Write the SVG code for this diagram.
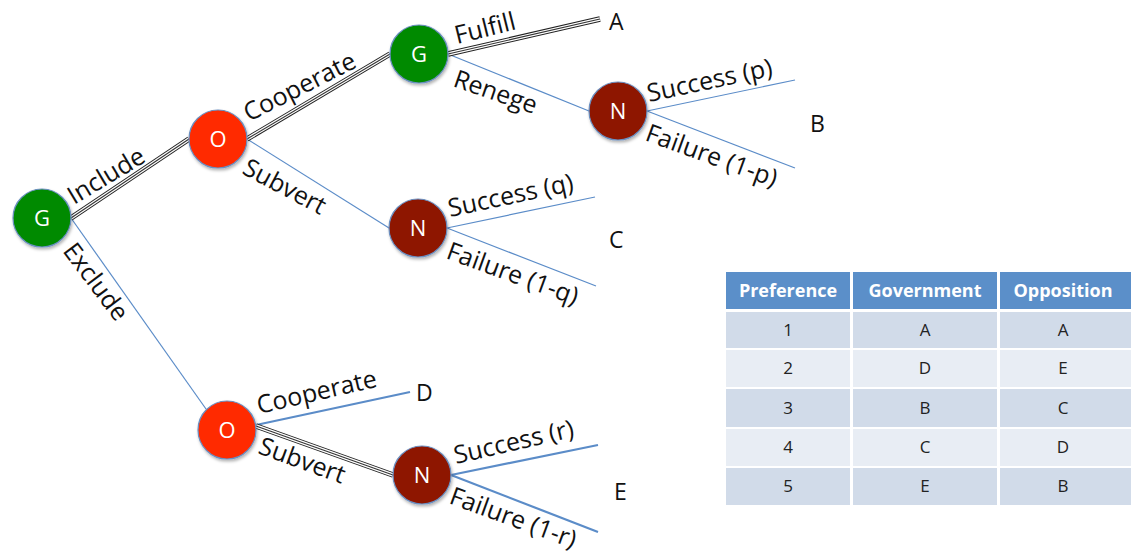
<svg xmlns="http://www.w3.org/2000/svg" width="1131" height="558" viewBox="0 0 1131 558">
  <style>
    .lbl { font-family: "Open Sans", "Liberation Sans", sans-serif; font-size: 25px; fill: #111; }
    .out { font-family: "Open Sans", "Liberation Sans", sans-serif; font-size: 23px; fill: #111; }
    .nodetxt { font-family: "Open Sans", "Liberation Sans", sans-serif; font-size: 22px; fill: #fff; text-anchor: middle; }
    .thin { stroke: #5b8cc8; stroke-width: 1.2; fill: none; }
    .thick { stroke: #5b8cc8; stroke-width: 2.2; fill: none; }
    .t1 { stroke: #222; stroke-width: 5.5; fill: none; }
    .t2 { stroke: #fff; stroke-width: 3.5; fill: none; }
    .t3 { stroke: #333; stroke-width: 1.1; fill: none; }
    .node { stroke: #6a8fc0; stroke-width: 1.2; filter: url(#shadow); }
    .gov { fill: #068a06; }
    .opp { fill: #ff2a00; }
    .nat { fill: #8e1400; }
    .hdr { fill: #5b8fc9; }
    .odd { fill: #d1dbe9; }
    .even { fill: #e8edf4; }
    .th { font-family: "Open Sans", "Liberation Sans", sans-serif; font-size: 18px; font-weight: bold; fill: #fff; text-anchor: middle; }
    .td { font-family: "Open Sans", "Liberation Sans", sans-serif; font-size: 17px; fill: #222; text-anchor: middle; }
  </style>
  <defs>
    <filter id="shadow" x="-30%" y="-30%" width="160%" height="160%">
      <feDropShadow dx="1" dy="2" stdDeviation="1.5" flood-color="#000" flood-opacity="0.3"/>
    </filter>
    <!-- equilibrium-path edges, drawn as triple lines -->
    <path id="e1" d="M71 218 L189 139"/>
    <path id="e3" d="M247 139 L390 54"/>
    <path id="e5" d="M448 54 L600 19"/>
    <path id="e12" d="M256 426 L393 475"/>
  </defs>

  <rect width="1131" height="558" fill="#fff"/>

  <g id="connectors">
    <!-- single-stroke moves -->
    <line class="thin" x1="71" y1="218" x2="206" y2="409"/>
    <line class="thin" x1="247" y1="139" x2="389" y2="228"/>
    <line class="thin" x1="448" y1="54" x2="589" y2="111"/>
    <line class="thin" x1="647" y1="111" x2="795" y2="80"/>
    <line class="thin" x1="647" y1="111" x2="795" y2="168"/>
    <line class="thin" x1="447" y1="228" x2="595" y2="197"/>
    <line class="thin" x1="447" y1="228" x2="596" y2="286"/>
    <line class="thick" x1="256" y1="425" x2="410" y2="392"/>
    <line class="thick" x1="451" y1="475" x2="598" y2="445"/>
    <line class="thick" x1="451" y1="475" x2="598" y2="532"/>
    <!-- triple lines -->
    <use href="#e1" class="t1"/><use href="#e1" class="t2"/><use href="#e1" class="t3"/>
    <use href="#e3" class="t1"/><use href="#e3" class="t2"/><use href="#e3" class="t3"/>
    <use href="#e5" class="t1"/><use href="#e5" class="t2"/><use href="#e5" class="t3"/>
    <use href="#e12" class="t1"/><use href="#e12" class="t2"/><use href="#e12" class="t3"/>

    <!-- move labels -->
    <text class="lbl" transform="translate(74 205) rotate(-31)">Include</text>
    <text class="lbl" transform="translate(62 251) rotate(53)">Exclude</text>
    <text class="lbl" transform="translate(249 122) rotate(-27)">Cooperate</text>
    <text class="lbl" transform="translate(241 173) rotate(28)">Subvert</text>
    <text class="lbl" transform="translate(457 44) rotate(-14)">Fulfill</text>
    <text class="lbl" transform="translate(452 86) rotate(19)">Renege</text>
    <text class="lbl" transform="translate(649 102) rotate(-12)">Success (p)</text>
    <text class="lbl" transform="translate(644 140) rotate(20)">Failure (1-p)</text>
    <text class="lbl" transform="translate(450 217) rotate(-12)">Success (q)</text>
    <text class="lbl" transform="translate(445 258) rotate(20)">Failure (1-q)</text>
    <text class="lbl" transform="translate(259 414) rotate(-13)">Cooperate</text>
    <text class="lbl" transform="translate(257 453) rotate(20)">Subvert</text>
    <text class="lbl" transform="translate(456 464) rotate(-13)">Success (r)</text>
    <text class="lbl" transform="translate(448 503) rotate(20)">Failure (1-r)</text>
  </g>

  <g id="outcomes">
    <text class="out" x="609" y="30">A</text>
    <text class="out" x="810" y="132">B</text>
    <text class="out" x="609" y="248">C</text>
    <text class="out" x="416" y="401">D</text>
    <text class="out" x="614" y="500">E</text>
  </g>

  <g id="node-g-root">
    <circle class="node gov" cx="42" cy="218" r="29"/>
    <text class="nodetxt" x="42" y="226">G</text>
  </g>
  <g id="node-o-include">
    <circle class="node opp" cx="218" cy="139" r="29"/>
    <text class="nodetxt" x="218" y="147">O</text>
  </g>
  <g id="node-g-cooperate">
    <circle class="node gov" cx="419" cy="54" r="29"/>
    <text class="nodetxt" x="419" y="62">G</text>
  </g>
  <g id="node-n-renege">
    <circle class="node nat" cx="618" cy="111" r="29"/>
    <text class="nodetxt" x="618" y="119">N</text>
  </g>
  <g id="node-n-subvert">
    <circle class="node nat" cx="418" cy="228" r="29"/>
    <text class="nodetxt" x="418" y="236">N</text>
  </g>
  <g id="node-o-exclude">
    <circle class="node opp" cx="227" cy="430" r="29"/>
    <text class="nodetxt" x="227" y="438">O</text>
  </g>
  <g id="node-n-exclude-subvert">
    <circle class="node nat" cx="422" cy="475" r="29"/>
    <text class="nodetxt" x="422" y="483">N</text>
  </g>

  <g id="preference-table">
    <rect class="hdr" x="726" y="272" width="124" height="37"/>
    <rect class="hdr" x="853" y="272" width="144" height="37"/>
    <rect class="hdr" x="1000" y="272" width="131" height="37"/>
    <text class="th" x="788" y="297">Preference</text>
    <text class="th" x="925" y="297">Government</text>
    <text class="th" x="1063" y="297">Opposition</text>

    <rect class="odd" x="726" y="312" width="124" height="36"/>
    <rect class="odd" x="853" y="312" width="144" height="36"/>
    <rect class="odd" x="1000" y="312" width="131" height="36"/>
    <rect class="even" x="726" y="350" width="124" height="37"/>
    <rect class="even" x="853" y="350" width="144" height="37"/>
    <rect class="even" x="1000" y="350" width="131" height="37"/>
    <rect class="odd" x="726" y="389" width="124" height="38"/>
    <rect class="odd" x="853" y="389" width="144" height="38"/>
    <rect class="odd" x="1000" y="389" width="131" height="38"/>
    <rect class="even" x="726" y="429" width="124" height="37"/>
    <rect class="even" x="853" y="429" width="144" height="37"/>
    <rect class="even" x="1000" y="429" width="131" height="37"/>
    <rect class="odd" x="726" y="468" width="124" height="37"/>
    <rect class="odd" x="853" y="468" width="144" height="37"/>
    <rect class="odd" x="1000" y="468" width="131" height="37"/>

    <text class="td" x="788" y="336">1</text><text class="td" x="925" y="336">A</text><text class="td" x="1063" y="336">A</text>
    <text class="td" x="788" y="374">2</text><text class="td" x="925" y="374">D</text><text class="td" x="1063" y="374">E</text>
    <text class="td" x="788" y="414">3</text><text class="td" x="925" y="414">B</text><text class="td" x="1063" y="414">C</text>
    <text class="td" x="788" y="453">4</text><text class="td" x="925" y="453">C</text><text class="td" x="1063" y="453">D</text>
    <text class="td" x="788" y="492">5</text><text class="td" x="925" y="492">E</text><text class="td" x="1063" y="492">B</text>
  </g>
</svg>
